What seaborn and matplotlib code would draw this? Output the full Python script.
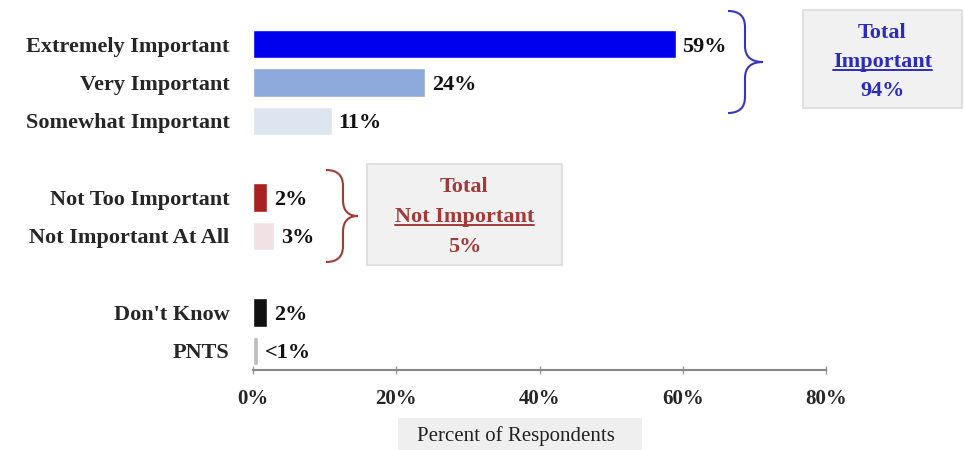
import numpy as np
import pandas as pd
import seaborn as sns
import matplotlib.pyplot as plt
from matplotlib.path import Path
from matplotlib.patches import PathPatch, Rectangle
from matplotlib.lines import Line2D

# Survey responses
categories = ["Extremely Important", "Very Important", "Somewhat Important",
              "Not Too Important", "Not Important At All",
              "Don't Know", "PNTS"]
values = [59, 24, 11, 2, 3, 2, 0.7]
value_labels = ["59%", "24%", "11%", "2%", "3%", "2%", "<1%"]
groups = [3, 2, 2]  # number of answers in each block
colors = ["#0000ee", "#8eaadc", "#dde5f1", "#a82222", "#f1e0e4", "#111111", "#bdbdbd"]
x_ticks = [0, 20, 40, 60, 80]
x_tick_labels = ["0%", "20%", "40%", "60%", "80%"]
total_important = "94%"
total_not_important = "5%"

W, H = 964, 450
SERIF = ["Liberation Serif", "DejaVu Serif"]
FS = 16

sns.set_theme(style="white")
plt.rcParams["font.family"] = SERIF

# Insert blank spacer rows between answer blocks
order = []
i = 0
for g_idx, g in enumerate(groups):
    order += categories[i:i + g]
    i += g
    if g_idx < len(groups) - 1:
        order.append(" " * (g_idx + 1))

df = pd.DataFrame({"category": categories, "value": values})

fig = plt.figure(figsize=(W / 100, H / 100), dpi=100)
ax = fig.add_axes([253 / W, 1 - 370 / H, (826 - 253) / W, (370 - 25) / H])

sns.barplot(data=df, x="value", y="category", hue="category", order=order,
            hue_order=categories, palette=dict(zip(categories, colors)),
            width=0.74, dodge=False, legend=False, ax=ax, saturation=1)

ax.set_xlim(0, 80)
ax.set_ylim(len(order) - 0.5, -0.5)
ax.set_xticks(x_ticks)
ax.set_xticklabels(x_tick_labels, fontsize=FS - 1, fontweight="bold")
ax.set_yticks(range(len(order)))
ax.set_yticklabels([c.strip() for c in order], fontsize=FS, fontweight="bold")
ax.tick_params(axis="y", length=0, pad=17)
ax.tick_params(axis="x", bottom=True, length=6, width=1, color="#999999", pad=11,
               direction="inout")
for s in ["top", "right", "left"]:
    ax.spines[s].set_visible(False)
ax.spines["bottom"].set_color("#888888")
ax.spines["bottom"].set_linewidth(1.5)
ax.set_xlabel("")
ax.set_ylabel("")

for cat, v, lab in zip(categories, values, value_labels):
    ax.annotate(lab, xy=(v, order.index(cat)), xytext=(5, 0),
                textcoords="offset points", va="center_baseline", ha="left",
                fontsize=FS, fontweight="bold", color="#111111")


def fx(px):
    return px / W


def fy(py):
    return 1 - py / H


def brace(xl, xs, xt, yt, yb, color):
    ym = (yt + yb) / 2
    r = 16
    pts = [(xl, yt), (xs, yt), (xs, yt + r),
           (xs, ym - r), (xs, ym), (xt, ym),
           (xs, ym), (xs, ym + r),
           (xs, yb - r), (xs, yb), (xl, yb)]
    codes = [Path.MOVETO, Path.CURVE3, Path.CURVE3,
             Path.LINETO, Path.CURVE3, Path.CURVE3,
             Path.CURVE3, Path.CURVE3,
             Path.LINETO, Path.CURVE3, Path.CURVE3]
    verts = [(fx(x), fy(y)) for x, y in pts]
    fig.add_artist(PathPatch(Path(verts, codes), fill=False, edgecolor=color,
                             linewidth=1.5, transform=fig.transFigure))


def total_box(x0, y0, x1, y1, lines, color, step):
    fig.add_artist(Rectangle((fx(x0), fy(y1)), fx(x1 - x0), (y1 - y0) / H,
                             facecolor="#f1f1f1", edgecolor="#e0e0e0", linewidth=1.5,
                             transform=fig.transFigure))
    cx = (x0 + x1) / 2
    cmid = (y0 + y1) / 2
    n = len(lines)
    texts = []
    for k, line in enumerate(lines):
        cy = cmid + step * (k - (n - 1) / 2)
        t = fig.text(fx(cx), fy(cy), line, ha="center", va="center_baseline",
                     fontsize=FS, fontweight="bold", color=color)
        texts.append(t)
    return texts


brace(728, 745, 763, 11, 113, "#3535c0")
blue_texts = total_box(803, 10, 962, 108, ["Total", "Important", total_important],
                       "#2b2bc0", 29)

brace(326, 343, 358, 170, 262, "#a33a3a")
red_texts = total_box(367, 164, 562, 265, ["Total", "Not Important", total_not_important],
                      "#a33a3a", 30)

# Underline the middle line of each total box
fig.canvas.draw()
renderer = fig.canvas.get_renderer()
for t, col in [(blue_texts[1], "#2b2bc0"), (red_texts[1], "#a33a3a")]:
    bb = t.get_window_extent(renderer)
    yline = bb.y0 + 2
    fig.add_artist(Line2D([bb.x0 / W, bb.x1 / W], [yline / H, yline / H],
                          color=col, linewidth=1.4, transform=fig.transFigure))

# Axis title on a light panel
fig.add_artist(Rectangle((fx(398), fy(452)), fx(642 - 398), 34 / H,
                         facecolor="#efefef", edgecolor="none",
                         transform=fig.transFigure))
fig.text(fx(516), fy(436), "Percent of Respondents", ha="center", va="center",
         fontsize=FS - 1, color="#222222")

fig.savefig("out.png", dpi=100)
